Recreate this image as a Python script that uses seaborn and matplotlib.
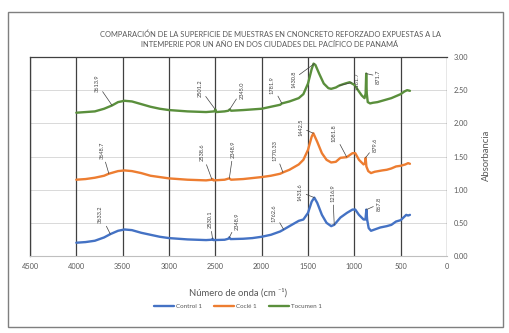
import matplotlib
matplotlib.use("Agg")
import matplotlib.pyplot as plt
import seaborn as sns
import pandas as pd
from matplotlib.patches import Rectangle

# ---------------- data ----------------
series_names = ["Control 1", "Coclé 1", "Tocumen 1"]

wn_control = [4000, 3900, 3800, 3700, 3633, 3550, 3480, 3400, 3300, 3200, 3100, 3000, 2900, 2800, 2700,
              2600, 2540, 2530, 2520, 2400, 2360, 2349, 2335, 2200, 2100, 2000, 1900, 1800, 1762, 1700,
              1600, 1550, 1500, 1460, 1432, 1400, 1350, 1300, 1250, 1217, 1150, 1080, 1020, 990, 950,
              900, 880, 870, 862, 845, 820, 780, 720, 650, 600, 550, 500, 470, 440, 420, 400]
ab_control = [0.20, 0.21, 0.23, 0.28, 0.33, 0.38, 0.40, 0.39, 0.35, 0.32, 0.29, 0.27, 0.26, 0.25, 0.245,
              0.24, 0.245, 0.26, 0.24, 0.245, 0.26, 0.28, 0.255, 0.26, 0.27, 0.29, 0.32, 0.37, 0.40, 0.45,
              0.53, 0.55, 0.65, 0.82, 0.88, 0.80, 0.62, 0.50, 0.45, 0.47, 0.58, 0.65, 0.70, 0.70, 0.62,
              0.55, 0.55, 0.70, 0.55, 0.42, 0.38, 0.40, 0.43, 0.45, 0.47, 0.52, 0.54, 0.58, 0.62, 0.61, 0.62]

wn_cocle = [4000, 3900, 3800, 3700, 3650, 3550, 3480, 3400, 3300, 3200, 3100, 3000, 2800, 2600, 2540,
            2530, 2520, 2400, 2350, 2330, 2200, 2000, 1900, 1800, 1770, 1700, 1600, 1550, 1500, 1460,
            1442, 1400, 1350, 1300, 1250, 1200, 1150, 1082, 1020, 990, 950, 900, 885, 878, 870,
            850, 820, 780, 700, 650, 600, 550, 500, 450, 420, 400]
ab_cocle = [1.15, 1.16, 1.18, 1.21, 1.24, 1.28, 1.29, 1.28, 1.25, 1.21, 1.19, 1.17, 1.15, 1.14, 1.15,
            1.16, 1.14, 1.15, 1.17, 1.15, 1.16, 1.19, 1.21, 1.24, 1.26, 1.30, 1.38, 1.45, 1.60, 1.80,
            1.85, 1.72, 1.55, 1.45, 1.41, 1.42, 1.48, 1.49, 1.55, 1.55, 1.45, 1.38, 1.40, 1.48, 1.35,
            1.28, 1.25, 1.27, 1.29, 1.30, 1.32, 1.35, 1.36, 1.38, 1.40, 1.39]

wn_tocumen = [4000, 3900, 3800, 3700, 3614, 3550, 3480, 3400, 3300, 3200, 3100, 3000, 2800, 2600, 2510,
              2500, 2490, 2400, 2360, 2345, 2330, 2200, 2100, 2000, 1900, 1800, 1782, 1700, 1600, 1550,
              1500, 1460, 1440, 1420, 1380, 1330, 1280, 1250, 1200, 1162, 1100, 1050, 1000, 960, 920,
              890, 878, 872, 866, 855, 830, 800, 750, 700, 650, 600, 550, 500, 460, 430, 400]
ab_tocumen = [2.16, 2.17, 2.18, 2.22, 2.27, 2.32, 2.34, 2.33, 2.29, 2.25, 2.22, 2.20, 2.18, 2.17, 2.18,
              2.21, 2.17, 2.18, 2.19, 2.21, 2.19, 2.20, 2.21, 2.22, 2.25, 2.28, 2.30, 2.33, 2.38, 2.44,
              2.60, 2.82, 2.90, 2.88, 2.75, 2.60, 2.53, 2.52, 2.54, 2.57, 2.60, 2.62, 2.58, 2.50, 2.42,
              2.38, 2.45, 2.75, 2.45, 2.32, 2.30, 2.31, 2.32, 2.34, 2.36, 2.38, 2.41, 2.44, 2.48, 2.50, 2.49]

# peak annotations: label text, wavenumber, absorbance at label
peak_labels_control = ["3633.2", "2530.1", "2348.9", "1762.6", "1431.6", "1216.9", "867.8"]
peak_wn_control = [3633.2, 2530.1, 2348.9, 1762.6, 1431.6, 1216.9, 867.8]
peak_ab_control = [0.33, 0.26, 0.28, 0.40, 0.88, 0.47, 0.70]

peak_labels_cocle = ["3648.7", "2538.6", "2348.9", "1770.33", "1442.5", "1081.8", "879.6"]
peak_wn_cocle = [3648.7, 2538.6, 2348.9, 1770.33, 1442.5, 1081.8, 879.6]
peak_ab_cocle = [1.24, 1.16, 1.17, 1.26, 1.85, 1.49, 1.48]

peak_labels_tocumen = ["3613.9", "2501.2", "2345.0", "1781.9", "1430.8", "1161.7", "871.7"]
peak_wn_tocumen = [3613.9, 2501.2, 2345.0, 1781.9, 1430.8, 1161.7, 871.7]
peak_ab_tocumen = [2.27, 2.21, 2.21, 2.30, 2.90, 2.57, 2.75]

x_ticks = [4500, 4000, 3500, 3000, 2500, 2000, 1500, 1000, 500, 0]
y_ticks = [0.0, 0.5, 1.0, 1.5, 2.0, 2.5, 3.0]

title = ("COMPARACIÓN DE LA SUPERFICIE DE MUESTRAS EN CNONCRETO REFORZADO EXPUESTAS A LA\n"
         "INTEMPERIE POR UN AÑO EN DOS CIUDADES DEL PACÍFICO DE PANAMÁ")

# ---------------- styles ----------------
colors = ["#4472C4", "#ED7D31", "#5A8F3C"]
# text offsets (points) for annotations, per series
off_control = [(-7, 14), (-2, 14), (6, 12), (-7, 12), (-10, 4), (-1, 23), (9, 4)]
off_cocle = [(-5, 17), (-7, 19), (3, 21), (-6, 16), (-9, 4), (-9, 17), (7, 9)]
off_tocumen = [(-11, 16), (-11, 15), (9, 14), (-7, 13), (-15, -11), (13, 3), (9, -2)]

frames = []
for name, wn, ab in [(series_names[0], wn_control, ab_control),
                     (series_names[1], wn_cocle, ab_cocle),
                     (series_names[2], wn_tocumen, ab_tocumen)]:
    frames.append(pd.DataFrame({"wn": wn, "ab": ab, "serie": name}))
df = pd.concat(frames, ignore_index=True)

sns.set_theme(style="white")
plt.rcParams["font.family"] = ["Lato", "DejaVu Sans"]

W, H = 509, 333
fig = plt.figure(figsize=(W / 100, H / 100), dpi=100)
ax = fig.add_axes([30 / W, 1 - 256 / H, 417 / W, 199 / H])

# outer border
fig.patches.append(Rectangle((8 / W, 1 - 327 / H), 495 / W, 315 / H, transform=fig.transFigure,
                             fill=False, edgecolor="#7f7f7f", lw=1.0))

# grid
for yv in y_ticks[1:-1]:
    ax.axhline(yv, color="#d9d9d9", lw=0.7, zorder=0)
for xv in x_ticks:
    ax.axvline(xv, color="#404040", lw=0.9, zorder=1)

sns.lineplot(data=df, x="wn", y="ab", hue="serie", palette=colors, sort=False,
             estimator=None, lw=1.7, ax=ax, zorder=3)

ax.set_xlim(4500, 0)
ax.set_ylim(0, 3.0)
ax.set_xticks(x_ticks)
ax.set_xticklabels([str(v) for v in x_ticks])
ax.set_yticks(y_ticks)
ax.set_yticklabels([f"{v:.2f}" for v in y_ticks])
ax.yaxis.tick_right()
ax.tick_params(axis="both", length=0, labelsize=5.3, colors="#595959", pad=5)
for s in ["left", "top"]:
    ax.spines[s].set_color("#404040")
    ax.spines[s].set_linewidth(0.9)
ax.spines["right"].set_visible(False)
ax.spines["bottom"].set_color("#bfbfbf")
ax.spines["bottom"].set_linewidth(0.8)
ax.set_xlabel("")
ax.set_ylabel("")

# annotations
for labels, wns, abs_, offs, col in [(peak_labels_control, peak_wn_control, peak_ab_control, off_control, colors[0]),
                                      (peak_labels_cocle, peak_wn_cocle, peak_ab_cocle, off_cocle, colors[1]),
                                      (peak_labels_tocumen, peak_wn_tocumen, peak_ab_tocumen, off_tocumen, colors[2])]:
    for lab, w, a, (dx, dy) in zip(labels, wns, abs_, offs):
        ax.annotate(lab, xy=(w, a), xytext=(dx, dy), textcoords="offset points",
                    rotation=90, ha="center", va="center", fontsize=4.1, color="#404040",
                    arrowprops=dict(arrowstyle="-", color="#404040", lw=0.5, shrinkA=0, shrinkB=0),
                    zorder=5)

# titles and labels
fig.text(270 / W, 1 - 39 / H, title, ha="center", va="center", fontsize=5.4,
         color="#595959", linespacing=1.45)
fig.text(238 / W, 1 - 293 / H, "Número de onda (cm ⁻¹)", ha="center", va="center",
         fontsize=6.8, color="#595959")
fig.text(486 / W, 1 - 155 / H, "Absorbancia", rotation=90, ha="center", va="center",
         fontsize=6.8, color="#595959")

handles, labels = ax.get_legend_handles_labels()
ax.get_legend().remove()
fig.legend(handles, labels, loc="center", bbox_to_anchor=(238 / W, 1 - 306 / H), ncol=3,
           frameon=False, fontsize=4.5, handlelength=3.2, columnspacing=2.0,
           labelcolor="#595959", handletextpad=0.3)

fig.savefig("out.png", dpi=100)
